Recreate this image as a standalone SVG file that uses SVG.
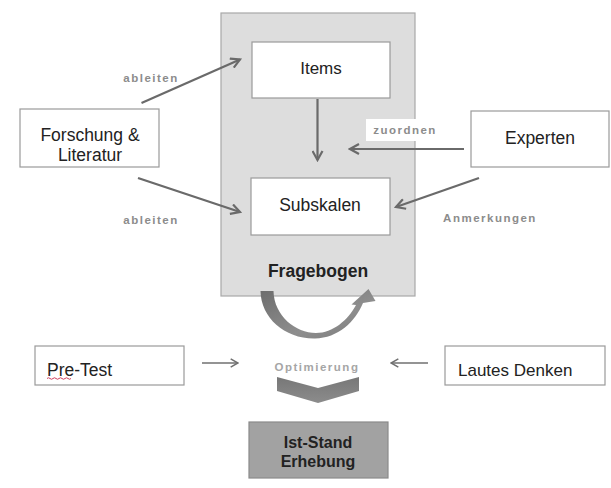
<svg xmlns="http://www.w3.org/2000/svg" width="611" height="488" viewBox="0 0 611 488">
  <defs>
    <style>
      .box { fill: #ffffff; stroke: #9a9a9a; stroke-width: 1.2; }
      .t { font-family: "Liberation Sans", Arial, sans-serif; fill: #222222; text-anchor: middle; dominant-baseline: central; }
      .lbl { font-family: "Liberation Sans", Arial, sans-serif; font-weight: bold; font-size: 11.5px; letter-spacing: 1.5px; fill: #8c8c8c; text-anchor: middle; dominant-baseline: central; }
      .con { stroke: #6a6a6a; stroke-width: 2.2; fill: none; }
      .thin { stroke: #707070; stroke-width: 1.6; fill: none; }
    </style>
    <marker id="ah" viewBox="0 0 12 12" refX="10" refY="6" markerWidth="12" markerHeight="12" markerUnits="userSpaceOnUse" orient="auto">
      <path d="M1,1 L10,6 L1,11" fill="none" stroke="#6a6a6a" stroke-width="2.2"/>
    </marker>
    <marker id="ah2" viewBox="0 0 12 12" refX="11" refY="6" markerWidth="11" markerHeight="11" markerUnits="userSpaceOnUse" orient="auto">
      <path d="M3,1.5 L11,6 L3,10.5" fill="none" stroke="#707070" stroke-width="1.6"/>
    </marker>
    <linearGradient id="curveGrad" x1="0" y1="0" x2="1" y2="1">
      <stop offset="0" stop-color="#6c6c6c"/>
      <stop offset="0.6" stop-color="#8e8e8e"/>
      <stop offset="1" stop-color="#7a7a7a"/>
    </linearGradient>
    <linearGradient id="chevGrad" x1="0" y1="0" x2="0" y2="1">
      <stop offset="0" stop-color="#777777"/>
      <stop offset="1" stop-color="#8c8c8c"/>
    </linearGradient>
  </defs>

  <rect x="0" y="0" width="611" height="488" fill="#ffffff"/>

  <g id="fragebogen">
    <rect x="221" y="13" width="194" height="283" fill="#dddddd" stroke="#a8a8a8" stroke-width="1.2"/>
    <text class="t" x="318" y="271" font-size="17.5" font-weight="bold">Fragebogen</text>
  </g>

  <g id="items">
    <rect class="box" x="252" y="42" width="138" height="56"/>
    <text class="t" x="321" y="68" font-size="17">Items</text>
  </g>

  <g id="subskalen">
    <rect class="box" x="251" y="178" width="139" height="57"/>
    <text class="t" x="320" y="205" font-size="17.5">Subskalen</text>
  </g>

  <g id="forschung">
    <rect class="box" x="20" y="109" width="139" height="58"/>
    <text class="t" x="90" y="135" font-size="17.5">Forschung &amp;</text>
    <text class="t" x="90" y="155" font-size="17.5">Literatur</text>
  </g>

  <g id="experten">
    <rect class="box" x="471" y="111" width="138" height="56"/>
    <text class="t" x="540" y="138" font-size="17.5">Experten</text>
  </g>

  <g id="pretest">
    <rect class="box" x="35" y="346" width="149" height="39"/>
    <text class="t" x="47" y="370" font-size="17.5" style="text-anchor:start">Pre-Test</text>
    <path d="M47,378.5 q1.5,-1.5 3,0 t3,0 t3,0 t3,0 t3,0 t3,0 t3,0 t3,0" fill="none" stroke="#d04060" stroke-width="1"/>
  </g>

  <g id="lautes">
    <rect class="box" x="445" y="346" width="160" height="39"/>
    <text class="t" x="458" y="370" font-size="17" style="text-anchor:start">Lautes Denken</text>
  </g>

  <g id="optimierung">
    <text class="lbl" x="317" y="367" font-size="12" style="fill:#a6a6a6">Optimierung</text>
    <polygon points="277,377 318,388 359,377 359,391 318,403 277,391" fill="url(#chevGrad)"/>
  </g>

  <g id="iststand">
    <rect x="249" y="422" width="139" height="56" fill="#a2a2a2" stroke="#8a8a8a" stroke-width="1.2"/>
    <text class="t" x="318" y="442" font-size="16" font-weight="bold">Ist-Stand</text>
    <text class="t" x="318" y="461" font-size="16" font-weight="bold">Erhebung</text>
  </g>

  <g id="connectors">
    <path class="con" d="M141.5,103 L240,59.5" marker-end="url(#ah)"/>
    <path class="con" d="M138,178 L240,212" marker-end="url(#ah)"/>
    <path class="con" d="M317.5,99 L317.5,160" marker-end="url(#ah)"/>
    <path class="con" d="M479,178 L396,207" marker-end="url(#ah)"/>
    <rect x="366" y="119" width="78" height="22" fill="#ffffff"/>
    <path class="con" d="M464,149 L350,149" marker-end="url(#ah)"/>
    <path d="M260.5,291 C261,318 285,339 315,338.5 C338,338 355,322 363,303 L375.5,301 L368.5,289 L351.5,304.5 L356,305 C348,320 333,333 316,333 C296,333 274,316 273.5,291 Z" fill="url(#curveGrad)"/>
    <path class="thin" d="M202,363 L238,363" marker-end="url(#ah2)"/>
    <path class="thin" d="M428,363 L391,363" marker-end="url(#ah2)"/>
    <text class="lbl" x="151" y="78">ableiten</text>
    <text class="lbl" x="151" y="220">ableiten</text>
    <text class="lbl" x="405" y="130">zuordnen</text>
    <text class="lbl" x="490" y="218">Anmerkungen</text>
  </g>
</svg>
